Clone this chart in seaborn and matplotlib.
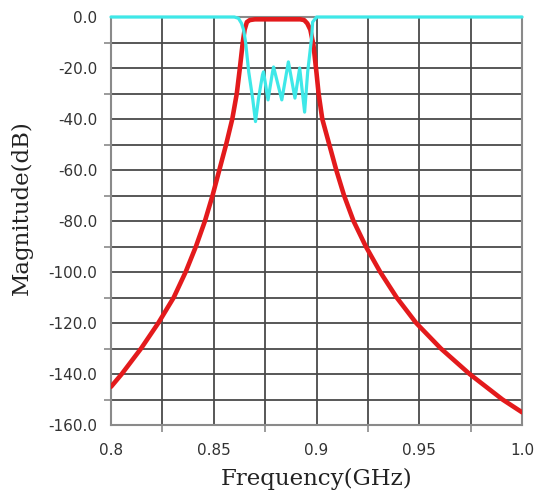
import numpy as np
import seaborn as sns
import matplotlib.pyplot as plt
from matplotlib.ticker import MultipleLocator, FormatStrFormatter

# S21 (red)
freq_s21 = [0.800, 0.8052, 0.8146, 0.8230, 0.8305, 0.8363, 0.8413, 0.8457, 0.8494,
            0.8527, 0.8560, 0.8590, 0.8612, 0.8627, 0.8641, 0.8650, 0.8661, 0.8675,
            0.8700, 0.8800, 0.8920, 0.8940, 0.8955, 0.8970, 0.8985, 0.9000, 0.9010,
            0.9028, 0.9062, 0.9096, 0.9134, 0.9180, 0.9240, 0.9310, 0.9390, 0.9485,
            0.9605, 0.9745, 0.9905, 1.000]
s21_db = [-145.0, -140.0, -130.0, -120.0, -110.0, -100.0, -90.0, -80.0, -70.0,
          -60.0, -50.0, -40.0, -30.0, -20.0, -10.0, -5.0, -2.0, -1.2,
          -0.9, -0.9, -0.9, -1.2, -2.5, -5.0, -11.0, -22.0, -30.0,
          -40.0, -50.0, -60.0, -70.0, -80.0, -90.0, -100.0, -110.0, -120.0,
          -130.0, -140.0, -150.0, -155.0]

# S11 (cyan)
freq_s11 = [0.800, 0.8600, 0.8620, 0.8635, 0.8645, 0.8655, 0.8670, 0.8689, 0.8703,
            0.8718, 0.8737, 0.8742, 0.8764, 0.8786, 0.8791, 0.8831, 0.8863, 0.8895,
            0.8918, 0.8942, 0.8957, 0.8976, 0.8981, 0.9000, 1.000]
s11_db = [0.0, 0.0, -0.5, -2.5, -5.0, -10.0, -21.5, -31.8, -41.0,
          -31.8, -22.7, -21.5, -32.5, -21.5, -19.6, -32.5, -17.6, -31.8,
          -20.0, -37.3, -21.5, -8.2, -2.0, 0.0, 0.0]

sns.set_style("white")
plt.rcParams['axes.unicode_minus'] = False
plt.rcParams['font.family'] = ['DejaVu Sans']

fig = plt.figure(figsize=(5.39, 4.96), dpi=100)
ax = fig.add_axes([0.206, 0.1431, 0.7625, 0.8226])

sns.lineplot(x=freq_s21, y=s21_db, color='#e31a1c', lw=3.3, ax=ax, zorder=3)
sns.lineplot(x=freq_s11, y=s11_db, color='#3ee8e8', lw=2.3, ax=ax, zorder=4, clip_on=False)

ax.set_xlim(0.8, 1.0)
ax.set_ylim(-160, 0)
ax.xaxis.set_major_locator(MultipleLocator(0.05))
ax.xaxis.set_minor_locator(MultipleLocator(0.025))
ax.yaxis.set_major_locator(MultipleLocator(20))
ax.yaxis.set_minor_locator(MultipleLocator(10))
ax.yaxis.set_major_formatter(FormatStrFormatter('%.1f'))
ax.set_xticks([0.8, 0.85, 0.9, 0.95, 1.0])
ax.set_xticklabels(['0.8', '0.85', '0.9', '0.95', '1.0'])

ax.grid(which='both', color='#4a4a4a', lw=1.3)
for s in ax.spines.values():
    s.set_color('#8a8a8a')
    s.set_linewidth(1.5)

ax.tick_params(which='major', length=0, labelsize=11, labelcolor='#333333')
ax.tick_params(axis='y', which='major', pad=10)
ax.tick_params(axis='x', which='major', pad=13)
ax.tick_params(which='minor', length=5, color='#8a8a8a', width=1.2)
ax.tick_params(axis='x', which='minor', bottom=True)
ax.tick_params(axis='y', which='minor', left=True)

ax.set_xlabel('Frequency(GHz)', family='DejaVu Serif', fontsize=16.5, color='#222222')
ax.set_ylabel('Magnitude(dB)', family='DejaVu Serif', fontsize=16.5, color='#222222')
ax.xaxis.set_label_coords(0.5, -0.105)
ax.yaxis.set_label_coords(-0.19, 0.532)

plt.savefig('out.png', dpi=100)
